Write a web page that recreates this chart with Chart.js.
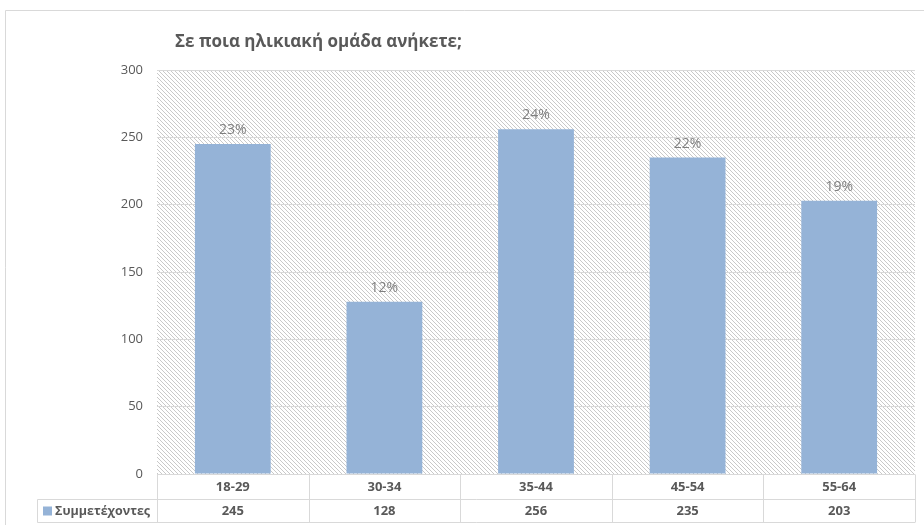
<!DOCTYPE html>
<html>
<head>
<meta charset="utf-8">
<script src="https://cdn.jsdelivr.net/npm/chart.js@4/dist/chart.umd.min.js"></script>
<style>
html,body{margin:0;padding:0;background:#fff;}
#wrap{width:924px;height:526px;position:relative;}
</style>
</head>
<body>
<div id="wrap"><canvas id="c" width="924" height="526"></canvas></div>
<script>
const title = "Σε ποια ηλικιακή ομάδα ανήκετε;";
const categories = ["18-29", "30-34", "35-44", "45-54", "55-64"];
const seriesName = "Συμμετέχοντες";
const participants = [245, 128, 256, 235, 203];
const percentLabels = ["23%", "12%", "24%", "22%", "19%"];
const yTicks = [0, 50, 100, 150, 200, 250, 300];

const FONT = "'Open Sans', 'Noto Sans', sans-serif";
const BAR = "#95b3d7";
const GRID = "#d9d9d9";
const TXT = "#595959";

function makeHatch(ctx){
  const p = document.createElement('canvas');
  p.width = 4; p.height = 4;
  const g = p.getContext('2d');
  g.fillStyle = '#ffffff'; g.fillRect(0,0,4,4);
  g.fillStyle = '#c9c9c9';
  for (let i = 0; i < 4; i++) g.fillRect(i, i, 1, 1);
  return ctx.createPattern(p, 'repeat');
}

const framePlugin = {
  id: 'frame',
  beforeDraw(chart){
    const ctx = chart.ctx, a = chart.chartArea;
    ctx.save();
    ctx.fillStyle = '#fff'; ctx.fillRect(0,0,chart.width,chart.height);
    ctx.strokeStyle = GRID; ctx.lineWidth = 1;
    ctx.beginPath();
    ctx.moveTo(5.5, 525); ctx.lineTo(5.5, 10.5); ctx.lineTo(chart.width, 10.5);
    ctx.stroke();
    ctx.fillStyle = makeHatch(ctx);
    ctx.fillRect(a.left, a.top, a.right - a.left, a.bottom - a.top);
    // title
    ctx.fillStyle = TXT;
    ctx.font = "bold 17px " + FONT;
    ctx.textAlign = 'left'; ctx.textBaseline = 'middle';
    ctx.fillText(title, 175, 42);
    ctx.restore();
  },
  afterDatasetsDraw(chart){
    const ctx = chart.ctx, a = chart.chartArea;
    const meta = chart.getDatasetMeta(0);
    const xs = chart.scales.x;
    ctx.save();
    // percent labels
    ctx.fillStyle = '#7f7f7f';
    ctx.font = "14px " + FONT;
    ctx.textAlign = 'center'; ctx.textBaseline = 'alphabetic';
    meta.data.forEach((bar, i) => {
      ctx.fillText(percentLabels[i], bar.x, bar.y - 10);
    });
    // data table
    const r0 = Math.round(a.bottom) + 0.5, r1 = r0 + 25, r2 = r1 + 23;
    const half = (xs.getPixelForValue(1) - xs.getPixelForValue(0)) / 2;
    const legendLeft = 37.5;
    ctx.strokeStyle = GRID; ctx.lineWidth = 1;
    ctx.beginPath();
    ctx.moveTo(a.left, r0); ctx.lineTo(a.right, r0);
    ctx.moveTo(legendLeft, r1); ctx.lineTo(a.right, r1);
    ctx.moveTo(legendLeft, r2); ctx.lineTo(a.right, r2);
    ctx.moveTo(legendLeft, r1); ctx.lineTo(legendLeft, r2);
    for (let i = 0; i <= categories.length; i++){
      const x = Math.round(xs.getPixelForValue(0) - half + i * 2 * half) + 0.5;
      ctx.moveTo(x, r0); ctx.lineTo(x, r2);
    }
    ctx.stroke();
    ctx.fillStyle = TXT;
    ctx.font = "bold 13px " + FONT;
    ctx.textAlign = 'center'; ctx.textBaseline = 'middle';
    categories.forEach((c, i) => {
      const x = xs.getPixelForValue(i);
      ctx.fillText(c, x, (r0 + r1) / 2);
      ctx.fillText(String(participants[i]), x, (r1 + r2) / 2);
    });
    ctx.fillStyle = BAR;
    ctx.fillRect(43, (r1 + r2) / 2 - 4.5, 9, 9);
    ctx.fillStyle = TXT;
    ctx.textAlign = 'left';
    ctx.font = "bold 12.5px " + FONT;
    ctx.fillText(seriesName, 55, (r1 + r2) / 2);
    ctx.restore();
  }
};

new Chart(document.getElementById('c'), {
  type: 'bar',
  data: {
    labels: categories,
    datasets: [{
      label: seriesName,
      data: participants,
      backgroundColor: BAR,
      borderWidth: 0,
      barPercentage: 0.5,
      categoryPercentage: 1.0
    }]
  },
  options: {
    responsive: false,
    animation: false,
    devicePixelRatio: 1,
    layout: { padding: { left: 0, top: 70, right: 9, bottom: 0 } },
    plugins: { legend: { display: false }, title: { display: false }, tooltip: { enabled: false } },
    scales: {
      x: {
        grid: { display: false },
        border: { display: false },
        ticks: { display: false },
        afterFit(s){ s.height = 52; }
      },
      y: {
        min: 0, max: 300,
        afterBuildTicks(s){ s.ticks = yTicks.map(v => ({ value: v })); },
        grid: { color: GRID, lineWidth: 1, drawTicks: false },
        border: { display: false },
        ticks: { color: TXT, font: { family: FONT, size: 13 }, padding: 14 },
        afterFit(s){ s.width = 157; }
      }
    }
  },
  plugins: [framePlugin]
});
</script>
</body>
</html>
